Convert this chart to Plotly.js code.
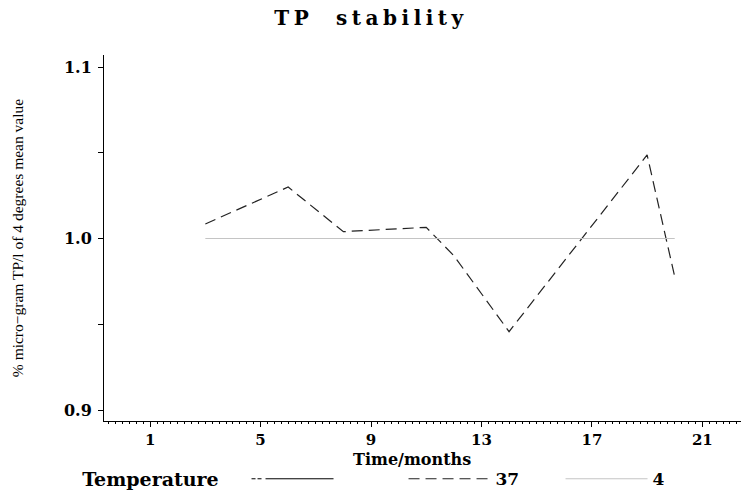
<!DOCTYPE html>
<html>
<head>
<meta charset="utf-8">
<script src="https://cdn.plot.ly/plotly-3.0.1.min.js"></script>
<style>
html,body{margin:0;padding:0;background:#fff;}
#chart{width:742px;height:491px;}
</style>
</head>
<body>
<div id="chart"></div>
<script>
// Data
const months37 = [3, 6, 8, 11, 12, 14, 19, 20];
const ratio37 = [1.0085, 1.030, 1.004, 1.0065, 0.990, 0.9457, 1.0487, 0.9777];
const months4 = [3, 20];
const ratio4 = [1.0, 1.0];
const seriesNames = ["", "37", "4"];
const xTicks = [1, 5, 9, 13, 17, 21];
const yTicks = [0.9, 1.0, 1.1];
const xTitle = "Time/months";

const serif = "'DejaVu Serif', 'Liberation Serif', serif";
const narrowSerif = "'Liberation Serif', 'Times New Roman', serif";

const traces = [
  {
    x: [null], y: [null], type: "scatter", mode: "lines", name: seriesNames[0],
    line: {color: "#000", width: 1, dash: "4px,2px,4px,4px,90px,0px"},
    hoverinfo: "skip"
  },
  {
    x: months37, y: ratio37, type: "scatter", mode: "lines", name: seriesNames[1],
    line: {color: "#222", width: 1.2, dash: "11px,6px"}
  },
  {
    x: months4, y: ratio4, type: "scatter", mode: "lines", name: seriesNames[2],
    line: {color: "#c4c4c4", width: 1.2}
  }
];

const layout = {
  width: 742, height: 491,
  paper_bgcolor: "#fff", plot_bgcolor: "#fff",
  margin: {l: 104, r: 1, t: 55, b: 70},
  font: {family: serif, color: "#000", size: 15, weight: "bold"},
  title: {text: "TP  stability", x: 0.5, xanchor: "center", y: 0.963, yanchor: "middle",
          font: {family: serif, size: 20, color: "#000", weight: "bold"}},
  showlegend: true,
  legend: {
    orientation: "h",
    xref: "container", x: 0.108, xanchor: "left",
    yref: "container", y: 0.024, yanchor: "middle",
    title: {text: "Temperature\u00a0\u00a0\u00a0", side: "left", font: {family: serif, size: 19, weight: "bold"}},
    font: {family: serif, size: 17, weight: "bold"},
    itemwidth: 82,
    entrywidth: 60, entrywidthmode: "pixels",
    bgcolor: "rgba(0,0,0,0)"
  },
  annotations: [
    {text: xTitle, xref: "paper", yref: "paper", x: 0.4835, y: 0,
     xanchor: "center", yanchor: "middle", yshift: -38, showarrow: false, borderpad: 0,
     font: {family: serif, size: 16, weight: "bold", color: "#000"}}
  ],
  xaxis: {
    range: [-0.67, 22.4], showgrid: false, zeroline: false,
    showline: true, linecolor: "#000", linewidth: 1,
    tickmode: "array", tickvals: xTicks, ticktext: xTicks.map(String),
    ticks: "outside", ticklen: 5, tickcolor: "#000",
    minor: {dtick: 0.25, tick0: 1, ticks: "outside", ticklen: 2, tickcolor: "#000", showgrid: false},
    tickfont: {family: serif, size: 15, weight: "bold"}
  },
  yaxis: {
    range: [0.8936, 1.107], showgrid: false, zeroline: false,
    showline: true, linecolor: "#000", linewidth: 1,
    tickmode: "array", tickvals: yTicks, ticktext: yTicks.map(v => v.toFixed(1)),
    ticks: "outside", ticklen: 5, tickcolor: "#000", ticklabelstandoff: 3,
    minor: {dtick: 0.05, tick0: 0.9, ticks: "outside", ticklen: 5, tickcolor: "#000", showgrid: false},
    tickfont: {family: serif, size: 16, weight: "bold"},
    title: {text: "% micro\u2212gram TP/l of 4 degrees mean value", standoff: 36,
            font: {family: narrowSerif, size: 15.5, weight: "normal"}}
  }
};

Plotly.newPlot("chart", traces, layout, {displayModeBar: false, staticPlot: true}).then(function (gd) {
  // widen the title lettering like the reference
  gd.querySelectorAll(".gtitle").forEach(function (t) {
    t.style.letterSpacing = "4.5px";
  });
});
</script>
</body>
</html>
